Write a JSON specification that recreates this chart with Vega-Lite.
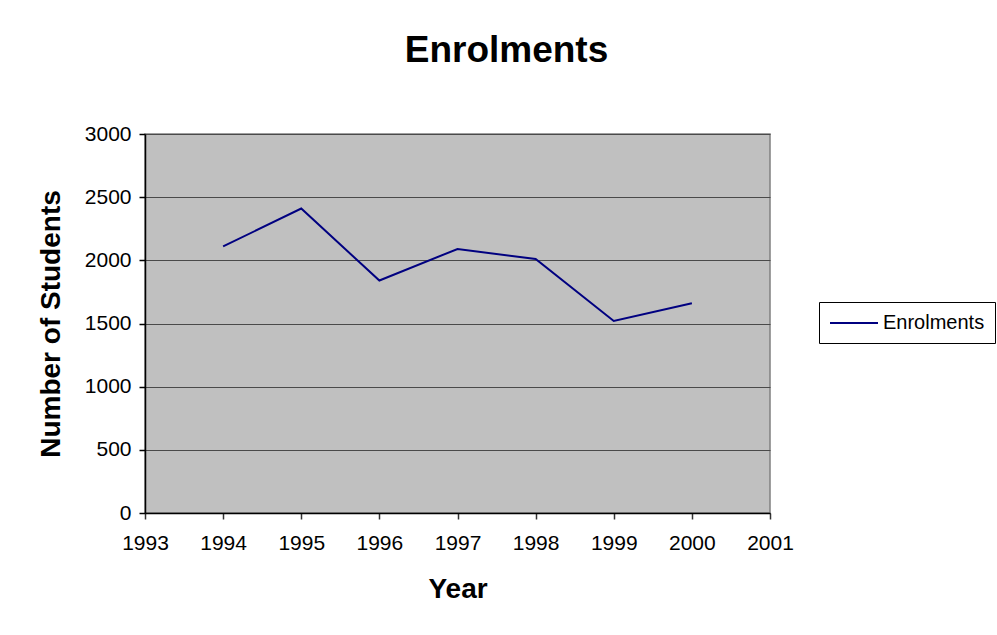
{
  "$schema": "https://vega.github.io/schema/vega-lite/v6.json",
  "width": 625,
  "height": 379,
  "autosize": {"type": "none"},
  "padding": {"left": 145, "top": 134, "right": 227, "bottom": 122},
  "background": "white",
  "title": {
    "text": "Enrolments",
    "font": "Liberation Sans",
    "fontSize": 37,
    "fontWeight": "bold",
    "color": "black",
    "anchor": "middle",
    "dx": 49,
    "baseline": "alphabetic",
    "offset": 24
  },
  "data": {
    "values": [
      {"year": 1994, "students": 2110, "series": "Enrolments"},
      {"year": 1995, "students": 2410, "series": "Enrolments"},
      {"year": 1996, "students": 1840, "series": "Enrolments"},
      {"year": 1997, "students": 2090, "series": "Enrolments"},
      {"year": 1998, "students": 2010, "series": "Enrolments"},
      {"year": 1999, "students": 1520, "series": "Enrolments"},
      {"year": 2000, "students": 1660, "series": "Enrolments"}
    ]
  },
  "mark": {"type": "line", "strokeWidth": 2},
  "encoding": {
    "x": {
      "field": "year",
      "type": "quantitative",
      "scale": {"domain": [1993, 2001], "nice": false, "zero": false},
      "axis": {
        "title": "Year",
        "values": [1993, 1994, 1995, 1996, 1997, 1998, 1999, 2000, 2001],
        "format": "d",
        "grid": false,
        "domainColor": "black",
        "domainWidth": 1.5,
        "tickColor": "#333333",
        "tickSize": 6,
        "tickWidth": 1.5,
        "labelFont": "Liberation Sans",
        "labelFontSize": 21,
        "labelColor": "black",
        "labelPadding": 13,
        "labelFlush": false,
        "labelOverlap": false,
        "titleFont": "Liberation Sans",
        "titleFontSize": 28,
        "titleFontWeight": "bold",
        "titleColor": "black",
        "titlePadding": 22
      }
    },
    "y": {
      "field": "students",
      "type": "quantitative",
      "scale": {"domain": [0, 3000], "nice": false},
      "axis": {
        "title": "Number of Students",
        "values": [0, 500, 1000, 1500, 2000, 2500, 3000],
        "format": "d",
        "grid": true,
        "gridColor": "#4a4a4a",
        "gridWidth": 1.2,
        "gridOpacity": 1,
        "domainColor": "black",
        "domainWidth": 1.5,
        "tickColor": "black",
        "tickSize": 6,
        "tickWidth": 1.5,
        "labelFont": "Liberation Sans",
        "labelFontSize": 21,
        "labelColor": "black",
        "labelPadding": 8,
        "labelFlush": false,
        "titleFont": "Liberation Sans",
        "titleFontSize": 28,
        "titleFontWeight": "bold",
        "titleColor": "black",
        "titlePadding": 19
      }
    },
    "color": {
      "field": "series",
      "type": "nominal",
      "scale": {"range": ["#000080"]},
      "legend": {
        "title": null,
        "orient": "none",
        "legendX": 674,
        "legendY": 168,
        "fillColor": "white",
        "strokeColor": "black",
        "padding": 10,
        "symbolType": "M-1,0H3.8",
        "symbolSize": 400,
        "symbolStrokeWidth": 2,
        "labelFont": "Liberation Sans",
        "labelFontSize": 20,
        "labelColor": "black",
        "labelOffset": 32
      }
    }
  },
  "config": {
    "view": {"fill": "#C0C0C0", "stroke": "#808080", "strokeWidth": 1.5}
  }
}
